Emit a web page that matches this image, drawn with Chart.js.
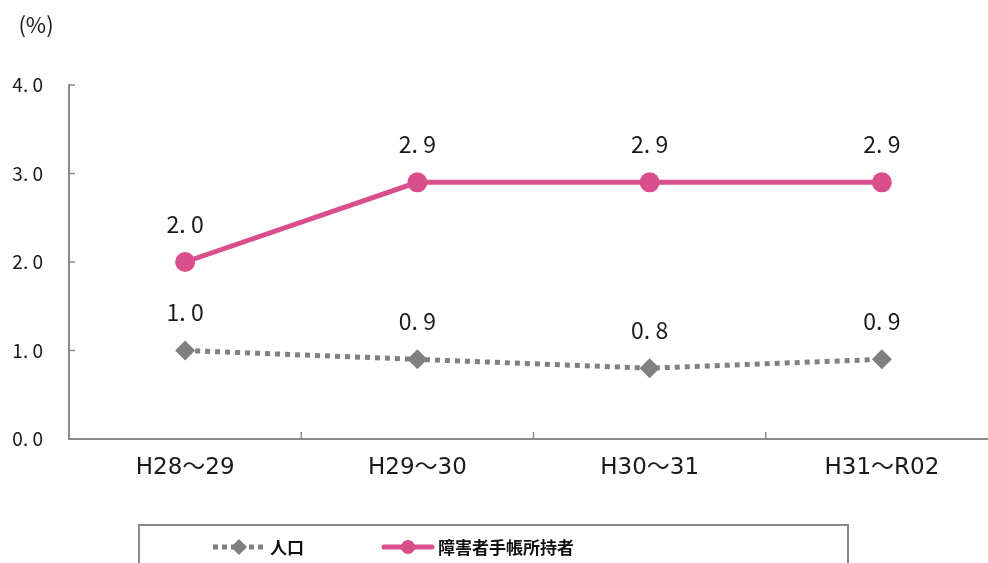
<!DOCTYPE html>
<html>
<head>
<meta charset="utf-8">
<script src="https://cdn.jsdelivr.net/npm/chart.js@4"></script>
<style>
  html, body { margin: 0; padding: 0; background: #fff; overflow: hidden; }
  canvas { display: block; }
</style>
</head>
<body>
<canvas id="chart" width="1008" height="563"></canvas>
<script>
var categories = ["H28～29", "H29～30", "H30～31", "H31～R02"];
var population = [1.0, 0.9, 0.8, 0.9];
var holders = [2.0, 2.9, 2.9, 2.9];
var yTicks = [0, 1, 2, 3, 4];

var FONT = "'Noto Sans CJK JP', 'Noto Sans', sans-serif";
var GRAY = "#808080";
var PINK = "#d94f8c";
var AXIS = "#8a8a8a";

function fmt(v) {
    return v.toFixed(1).replace(".", ". ");
}

// data labels above each point
var valueLabels = {
    id: "valueLabels",
    afterDatasetsDraw: function(chart) {
        var ctx = chart.ctx;
        ctx.save();
        ctx.font = "23px " + FONT;
        ctx.fillStyle = "#1a1a1a";
        ctx.textAlign = "center";
        ctx.textBaseline = "middle";
        chart.data.datasets.forEach(function(ds, i) {
            var meta = chart.getDatasetMeta(i);
            meta.data.forEach(function(p, j) {
                ctx.fillText(fmt(ds.data[j]), p.x, p.y - 38);
            });
        });
        ctx.restore();
    }
};

// inside tick marks, unit title and legend box
var extras = {
    id: "extras",
    afterDraw: function(chart) {
        var ctx = chart.ctx;
        var area = chart.chartArea;
        var x = chart.scales.x;
        var y = chart.scales.y;
        ctx.save();
        ctx.strokeStyle = AXIS;
        ctx.lineWidth = 1.5;
        yTicks.forEach(function(t) {
            var py = y.getPixelForValue(t);
            ctx.beginPath();
            ctx.moveTo(area.left, py);
            ctx.lineTo(area.left + 6, py);
            ctx.stroke();
        });
        for (var i = 1; i < categories.length; i++) {
            var px = (x.getPixelForValue(i - 1) + x.getPixelForValue(i)) / 2;
            ctx.beginPath();
            ctx.moveTo(px, area.bottom);
            ctx.lineTo(px, area.bottom - 7);
            ctx.stroke();
        }

        ctx.fillStyle = "#1a1a1a";
        ctx.font = "22px " + FONT;
        ctx.textAlign = "center";
        ctx.textBaseline = "middle";
        ctx.fillText("(%)", 36, 25);

        // legend
        ctx.strokeStyle = AXIS;
        ctx.lineWidth = 2;
        ctx.strokeRect(139, 525, 709, 60);

        var ly = 547;
        ctx.lineWidth = 5;
        ctx.strokeStyle = GRAY;
        ctx.setLineDash([5, 4]);
        ctx.beginPath();
        ctx.moveTo(213, ly);
        ctx.lineTo(265, ly);
        ctx.stroke();
        ctx.setLineDash([]);
        ctx.fillStyle = GRAY;
        ctx.beginPath();
        ctx.moveTo(239, ly - 8);
        ctx.lineTo(247, ly);
        ctx.lineTo(239, ly + 8);
        ctx.lineTo(231, ly);
        ctx.closePath();
        ctx.fill();

        ctx.strokeStyle = PINK;
        ctx.lineCap = "round";
        ctx.beginPath();
        ctx.moveTo(384, ly);
        ctx.lineTo(432, ly);
        ctx.stroke();
        ctx.lineCap = "butt";
        ctx.fillStyle = PINK;
        ctx.beginPath();
        ctx.arc(408, ly, 7, 0, Math.PI * 2);
        ctx.fill();

        ctx.fillStyle = "#111";
        ctx.font = "bold 17px " + FONT;
        ctx.textAlign = "left";
        ctx.fillText(chart.data.datasets[0].label, 270, ly + 1);
        ctx.fillText(chart.data.datasets[1].label, 438, ly + 1);
        ctx.restore();
    }
};

var data = {
    labels: categories,
    datasets: [{
        label: "人口",
        data: population,
        borderColor: GRAY,
        backgroundColor: GRAY,
        borderWidth: 5,
        borderDash: [5, 5],
        pointStyle: "rectRot",
        pointRadius: 10,
        pointBorderWidth: 0,
        order: 2
    }, {
        label: "障害者手帳所持者",
        data: holders,
        borderColor: PINK,
        backgroundColor: PINK,
        borderWidth: 5,
        pointStyle: "circle",
        pointRadius: 10,
        pointBorderWidth: 0,
        order: 1
    }]
};

var options = {
    responsive: false,
    animation: false,
    layout: {
        padding: { top: 85, left: 0, right: 3, bottom: 0 }
    },
    plugins: {
        legend: { display: false },
        tooltip: { enabled: false }
    },
    scales: {
        x: {
            offset: true,
            grid: { display: false, drawTicks: false },
            border: { color: AXIS, width: 2 },
            ticks: {
                padding: 15,
                color: "#1a1a1a",
                font: { family: "'DejaVu Sans', 'Noto Sans CJK JP', sans-serif", size: 23 }
            },
            afterFit: function(scale) { scale.height = 124; }
        },
        y: {
            min: 0,
            max: 4,
            grid: { display: false, drawTicks: false },
            border: { color: AXIS, width: 2 },
            ticks: {
                stepSize: 1,
                padding: 26,
                color: "#1a1a1a",
                font: { family: FONT, size: 19 },
                callback: function(val) { return fmt(val); }
            },
            afterFit: function(scale) { scale.width = 69; }
        }
    }
};

var chart = new Chart(document.getElementById("chart").getContext("2d"), {
    type: "line",
    data: data,
    options: options,
    plugins: [valueLabels, extras]
});
</script>
</body>
</html>
